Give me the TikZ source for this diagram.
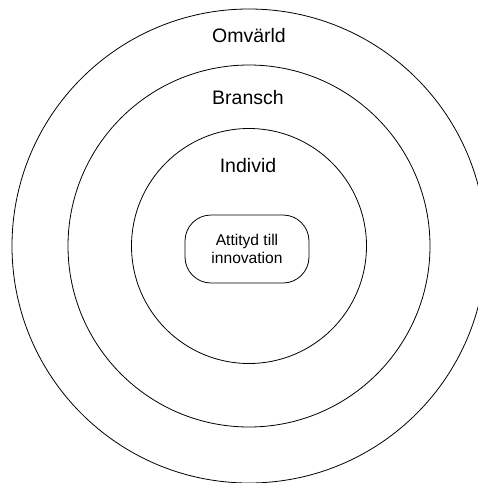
\documentclass[tikz,border=0pt]{standalone}
\usepackage{fontspec}
\setmainfont{Liberation Sans}
\begin{document}
\begin{tikzpicture}[x=1pt,y=-1pt,
  ring/.style={draw=black,line width=0.8pt},
  lbl/.style={font=\fontsize{19.5}{23}\selectfont,inner sep=0pt},
  core/.style={draw=black,line width=0.8pt,rounded corners=26pt,minimum width=124pt,minimum height=68pt,align=center,font=\fontsize{15.6}{18}\selectfont,inner sep=0pt}]
\useasboundingbox (0,0) rectangle (478,483);
\clip (0,0) rectangle (478,483);
\fill[white] (0,0) rectangle (478,483);
\draw[ring] (249,246) circle (237);
\draw[ring] (249,246) circle (181);
\draw[ring] (249,246) circle (117.5);
\node[core] (attityd) at (247,249) {Attityd till\\innovation};
\node[lbl] (omv) at (249,36) {Omvärld};
\node[lbl] (bransch) at (248,98) {Bransch};
\node[lbl] (individ) at (248,166) {Individ};
\end{tikzpicture}
\end{document}
